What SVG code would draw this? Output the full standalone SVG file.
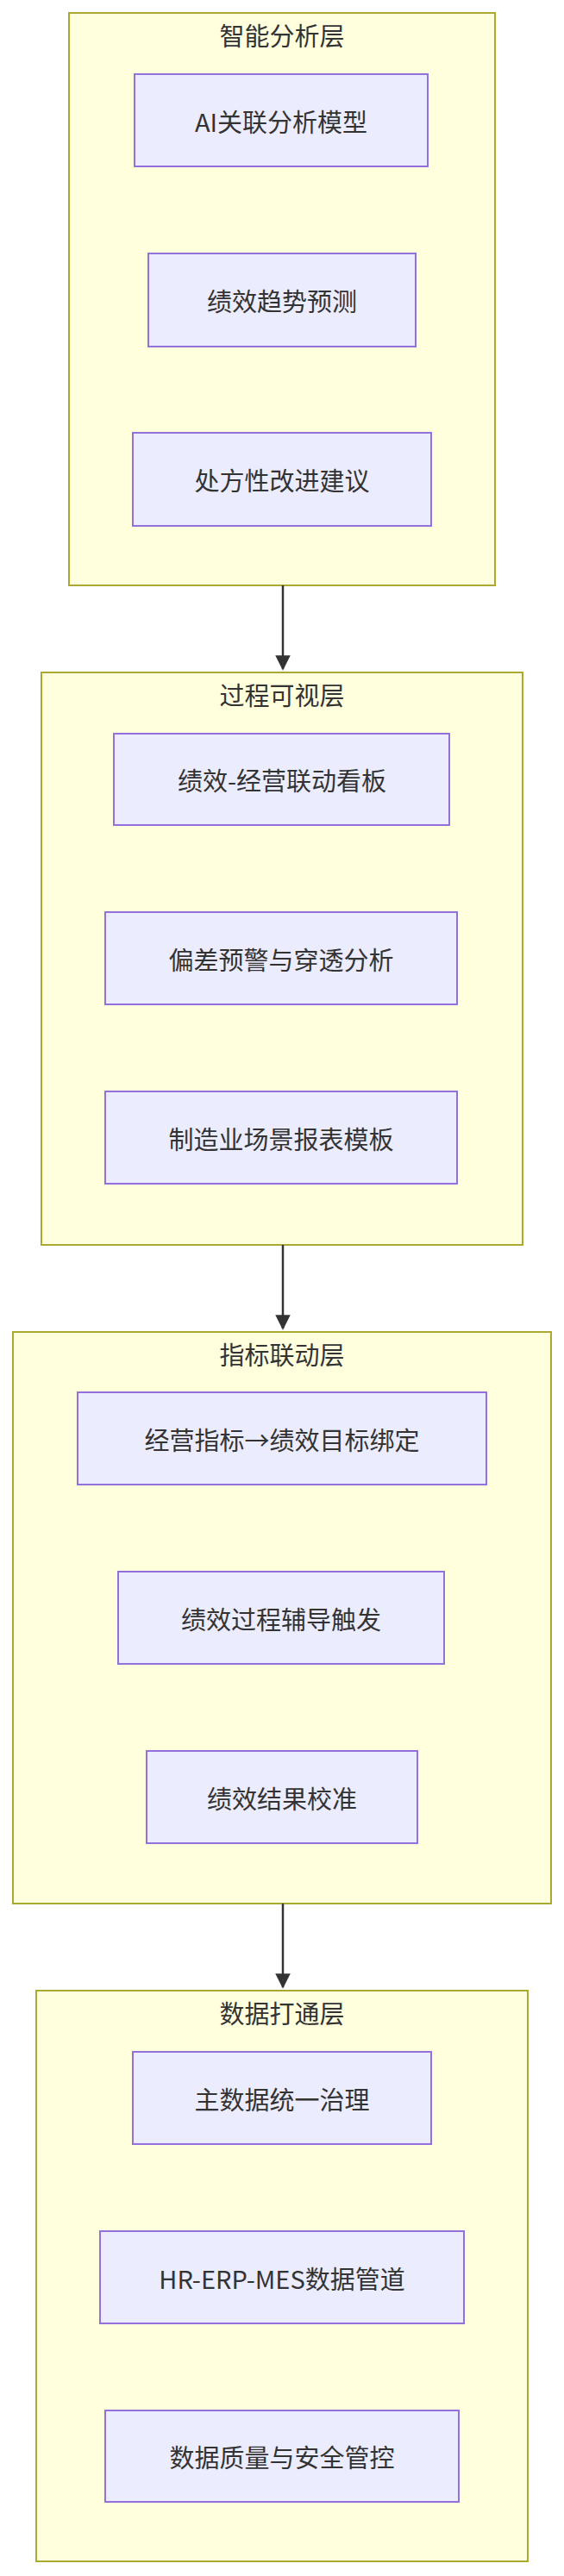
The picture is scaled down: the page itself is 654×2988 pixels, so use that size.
<svg xmlns="http://www.w3.org/2000/svg" width="654" height="2988" viewBox="0 0 654 2988">
<defs>
<style>
.c{fill:#ffffde;stroke:#aaaa33;stroke-width:2}
.n{fill:#ececff;stroke:#9370db;stroke-width:2}
text{font-family:"Noto Sans CJK SC","Noto Sans",sans-serif;font-size:29px;fill:#333;text-anchor:middle;dominant-baseline:central}
.e{stroke:#333;stroke-width:2.5;fill:none}
</style>
<marker id="a" viewBox="0 0 10 10" refX="9" refY="5" markerWidth="7" markerHeight="7" orient="auto"><path d="M0,0L10,5L0,10z" fill="#333"/></marker>
</defs>
<g id="c1"><rect class="c" x="80" y="15" width="494" height="664"/><text x="327" y="40">智能分析层</text></g>
<g id="c2"><rect class="c" x="48" y="780" width="558" height="664"/><text x="327" y="805">过程可视层</text></g>
<g id="c3"><rect class="c" x="15" y="1545" width="624" height="663"/><text x="327" y="1570">指标联动层</text></g>
<g id="c4"><rect class="c" x="42" y="2309" width="570" height="662"/><text x="327" y="2334">数据打通层</text></g>
<g id="n1"><rect class="n" x="156" y="86" width="340" height="107"/><text x="326" y="140">AI关联分析模型</text></g>
<g id="n2"><rect class="n" x="172" y="294" width="310" height="108"/><text x="327" y="348">绩效趋势预测</text></g>
<g id="n3"><rect class="n" x="154" y="502" width="346" height="108"/><text x="327" y="556">处方性改进建议</text></g>
<g id="n4"><rect class="n" x="132" y="851" width="389" height="106"/><text x="327" y="904">绩效-经营联动看板</text></g>
<g id="n5"><rect class="n" x="122" y="1058" width="408" height="107"/><text x="326" y="1112">偏差预警与穿透分析</text></g>
<g id="n6"><rect class="n" x="122" y="1266" width="408" height="107"/><text x="326" y="1320">制造业场景报表模板</text></g>
<g id="n7"><rect class="n" x="90" y="1615" width="474" height="107"/><text x="327" y="1669">经营指标→绩效目标绑定</text></g>
<g id="n8"><rect class="n" x="137" y="1823" width="378" height="107"/><text x="326" y="1877">绩效过程辅导触发</text></g>
<g id="n9"><rect class="n" x="170" y="2031" width="314" height="107"/><text x="327" y="2085">绩效结果校准</text></g>
<g id="n10"><rect class="n" x="154" y="2380" width="346" height="107"/><text x="327" y="2434">主数据统一治理</text></g>
<g id="n11"><rect class="n" x="116" y="2588" width="422" height="107"/><text x="327" y="2642">HR-ERP-MES数据管道</text></g>
<g id="n12"><rect class="n" x="122" y="2796" width="410" height="106"/><text x="327" y="2849">数据质量与安全管控</text></g>
<g id="edges">
<path class="e" d="M328,679V776" marker-end="url(#a)"/>
<path class="e" d="M328,1444V1541" marker-end="url(#a)"/>
<path class="e" d="M328,2208V2305" marker-end="url(#a)"/>
</g>
</svg>
